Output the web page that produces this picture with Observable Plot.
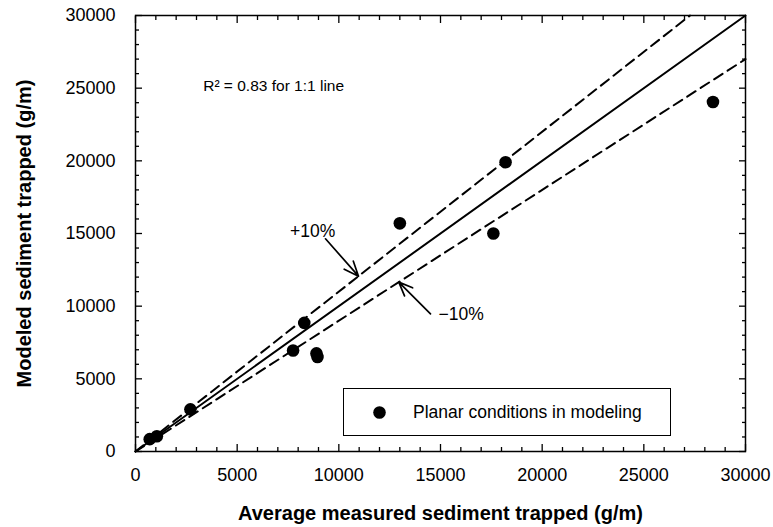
<!DOCTYPE html>
<html><head><meta charset="utf-8">
<script src="https://cdn.jsdelivr.net/npm/d3@7"></script>
<script src="https://cdn.jsdelivr.net/npm/@observablehq/plot@0.6"></script>
<style>
body{margin:0;background:#fff;}
#wrap{position:relative;width:773px;height:527px;font-family:"Liberation Sans",Arial,sans-serif;}
#legend{position:absolute;left:343px;top:388px;width:326px;height:46px;border:1.5px solid #000;background:#fff;display:flex;align-items:center;font-size:17.5px;color:#000;}
#legend svg{margin-left:29px;margin-right:27px;}
</style></head><body><div id="wrap"></div>
<script>
// Data
const measured = [700, 1050, 2700, 7750, 8300, 8900, 8950, 13000, 17600, 18200, 28400];
const modeled  = [850, 1050, 2900, 6950, 8850, 6750, 6500, 15700, 15000, 19900, 24050];

// Reference lines (1:1, +10%, -10%) endpoints
const lineOneX = [0, 30000], lineOneY = [0, 30000];
const linePlusX = [0, 27273], linePlusY = [0, 30000];
const lineMinusX = [0, 30000], lineMinusY = [0, 27000];

// Ticks
const majorTicks = [0, 5000, 10000, 15000, 20000, 25000, 30000];
const minorTicks = d3.range(0, 30001, 1000).filter(v => v % 5000 !== 0);

// Annotations
const annText = ["R² = 0.83 for 1:1 line", "+10%", "−10%"];
const annX = [3330, 7600, 14900];
const annY = [25160, 15150, 9400];
const arrowX1 = [9344, 14508], arrowY1 = [14636, 9475];
const arrowX2 = [10967, 12949], arrowY2 = [12064, 11654];

const xLabel = "Average measured sediment trapped (g/m)";
const yLabel = "Modeled sediment trapped (g/m)";
const legendLabel = "Planar conditions in modeling";

const pts = measured.map((m, i) => ({m, v: modeled[i]}));
const mkLine = (xs, ys) => xs.map((x, i) => ({x, y: ys[i]}));
const ann = annText.map((t, i) => ({t, x: annX[i], y: annY[i]}));
const arrows = arrowX1.map((x1, i) => ({x1, y1: arrowY1[i], x2: arrowX2[i], y2: arrowY2[i]}));

const font = "Liberation Sans, Arial, sans-serif";
const chart = Plot.plot({
  width: 773, height: 527,
  marginLeft: 135, marginRight: 28, marginTop: 15, marginBottom: 76,
  style: {fontFamily: font, fontSize: "18px", color: "#000", background: "#fff"},
  x: {domain: [0, 30000], label: null},
  y: {domain: [0, 30000], label: null},
  marks: [
    Plot.line(mkLine(lineOneX, lineOneY), {x: "x", y: "y", stroke: "#000", strokeWidth: 2}),
    Plot.line(mkLine(linePlusX, linePlusY), {x: "x", y: "y", stroke: "#000", strokeWidth: 2, strokeDasharray: "10,6"}),
    Plot.line(mkLine(lineMinusX, lineMinusY), {x: "x", y: "y", stroke: "#000", strokeWidth: 2, strokeDasharray: "10,6"}),
    Plot.dot(pts, {x: "m", y: "v", r: 6.3, fill: "#000", stroke: "none"}),
    Plot.arrow(arrows, {x1: "x1", y1: "y1", x2: "x2", y2: "y2", stroke: "#000", strokeWidth: 1.7, headLength: 14, headAngle: 45, bend: 0}),
    Plot.text(ann, {x: "x", y: "y", text: "t", textAnchor: "start", fontSize: d => d.t.startsWith("R") ? 15.5 : 17.5, fill: "#000"}),
    // inward ticks
    Plot.axisX(majorTicks, {anchor: "bottom", tickSize: -7, tickFormat: () => "", strokeWidth: 1.3}),
    Plot.axisX(minorTicks, {anchor: "bottom", tickSize: -4, tickFormat: () => "", strokeWidth: 1.3}),
    Plot.axisX(majorTicks, {anchor: "top", tickSize: -7, tickFormat: () => "", strokeWidth: 1.3}),
    Plot.axisX(minorTicks, {anchor: "top", tickSize: -4, tickFormat: () => "", strokeWidth: 1.3}),
    Plot.axisY(majorTicks, {anchor: "left", tickSize: -7, tickFormat: () => "", strokeWidth: 1.3}),
    Plot.axisY(minorTicks, {anchor: "left", tickSize: -4, tickFormat: () => "", strokeWidth: 1.3}),
    Plot.axisY(majorTicks, {anchor: "right", tickSize: -7, tickFormat: () => "", strokeWidth: 1.3}),
    Plot.axisY(minorTicks, {anchor: "right", tickSize: -4, tickFormat: () => "", strokeWidth: 1.3}),
    // tick labels
    Plot.axisX(majorTicks, {anchor: "bottom", tickSize: 0, tickPadding: 17, tickFormat: d => String(d), fontSize: 18}),
    Plot.axisY(majorTicks, {anchor: "left", tickSize: 0, tickPadding: 20, tickFormat: d => String(d), fontSize: 18}),
    Plot.frame({stroke: "#000", strokeWidth: 1.5}),
    // axis titles
    Plot.text([xLabel], {frameAnchor: "bottom", dy: 62, lineAnchor: "middle", textAnchor: "middle", text: d => d, fontWeight: "bold", fontSize: 20, fill: "#000"}),
    Plot.text([yLabel], {frameAnchor: "left", dx: -111, rotate: -90, textAnchor: "middle", lineAnchor: "middle", text: d => d, fontWeight: "bold", fontSize: 20, fill: "#000"})
  ]
});
const wrap = document.getElementById("wrap");
wrap.appendChild(chart);
const leg = document.createElement("div");
leg.id = "legend";
leg.innerHTML = `<svg width="13" height="13"><circle cx="6.5" cy="6.5" r="6.3" fill="#000"/></svg><span>${legendLabel}</span>`;
wrap.appendChild(leg);
</script>
</body></html>
